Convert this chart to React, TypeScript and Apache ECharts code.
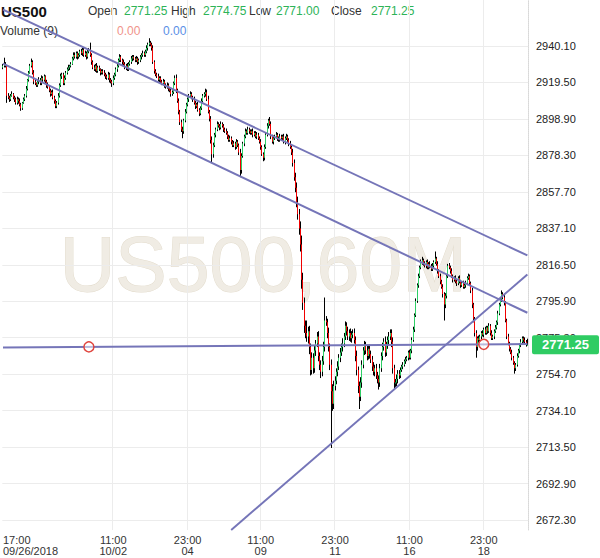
import React, { useEffect, useRef } from 'react';
import * as echarts from 'echarts';

// ---- data (hourly bars, US500 60M) ----
const firstOpen = 2928;
const closes = [
  2929, 2930, 2929, 2912, 2911, 2910, 2912, 2913, 2911, 2910,
  2908, 2910, 2909, 2907, 2905, 2908, 2910, 2912, 2916, 2921,
  2925, 2929, 2931, 2925, 2920, 2919, 2918, 2920, 2921, 2919,
  2922, 2921, 2923, 2920, 2918, 2917, 2915, 2913, 2914, 2911,
  2909, 2906, 2908, 2912, 2918, 2923, 2924, 2919, 2922, 2925,
  2927, 2928, 2929, 2930, 2933, 2935, 2934, 2936, 2934, 2935,
  2937, 2936, 2938, 2935, 2936, 2934, 2937, 2938, 2935, 2931,
  2928, 2927, 2929, 2926, 2928, 2927, 2925, 2926, 2925, 2924,
  2923, 2922, 2924, 2921, 2920, 2919, 2922, 2924, 2927, 2929,
  2932, 2934, 2932, 2931, 2930, 2928, 2929, 2927, 2930, 2931,
  2933, 2934, 2933, 2932, 2933, 2931, 2932, 2934, 2935, 2936,
  2935, 2937, 2939, 2941, 2942, 2941, 2939, 2931, 2926, 2924,
  2923, 2921, 2922, 2920, 2919, 2920, 2918, 2917, 2918, 2916,
  2915, 2913, 2914, 2919, 2922, 2915, 2909, 2903, 2897, 2893,
  2892, 2898, 2903, 2907, 2910, 2912, 2913, 2911, 2910, 2908,
  2906, 2907, 2904, 2902, 2905, 2909, 2912, 2913, 2914, 2910,
  2903, 2899, 2887, 2879, 2884, 2890, 2893, 2896, 2895, 2894,
  2896, 2895, 2893, 2892, 2891, 2889, 2887, 2888, 2886, 2884,
  2885, 2883, 2886, 2884, 2880, 2870, 2878, 2885, 2889, 2892,
  2891, 2893, 2892, 2891, 2892, 2890, 2891, 2889, 2890, 2888,
  2886, 2883, 2879, 2877, 2883, 2890, 2895, 2898, 2896, 2889,
  2886, 2888, 2889, 2890, 2888, 2887, 2889, 2888, 2889, 2886,
  2888, 2889, 2887, 2885, 2883, 2880, 2874, 2866, 2860, 2852,
  2845, 2837, 2828, 2808, 2795, 2782, 2778, 2776, 2779, 2770,
  2757, 2764, 2758, 2768, 2772, 2776, 2765, 2760, 2756, 2762,
  2770, 2785, 2784, 2778, 2770, 2760, 2745, 2738, 2748, 2751,
  2756, 2759, 2764, 2767, 2770, 2772, 2776, 2782, 2779, 2776,
  2778, 2775, 2777, 2778, 2774, 2765, 2757, 2748, 2742, 2750,
  2760, 2768, 2771, 2768, 2765, 2769, 2766, 2763, 2759, 2756,
  2758, 2754, 2752, 2750, 2758, 2765, 2770, 2773, 2767, 2771,
  2774, 2776, 2778, 2773, 2758, 2750, 2750, 2752, 2755, 2754,
  2757, 2759, 2760, 2762, 2763, 2764, 2767, 2764, 2768, 2774,
  2780, 2788, 2796, 2805, 2810, 2815, 2818, 2819, 2817, 2816,
  2818, 2815, 2817, 2816, 2814, 2816, 2818, 2820, 2817, 2813,
  2810, 2807, 2804, 2800, 2794, 2799, 2810, 2816, 2815, 2813,
  2810, 2808, 2809, 2807, 2806, 2809, 2807, 2805, 2806, 2804,
  2805, 2806, 2809, 2810, 2806, 2802, 2794, 2786, 2778, 2770,
  2775, 2774, 2776, 2778, 2777, 2780, 2778, 2781, 2779, 2782,
  2778, 2775, 2776, 2779, 2781, 2784, 2789, 2794, 2797, 2800,
  2798, 2795, 2785, 2776, 2772, 2769, 2767, 2764, 2761, 2758,
  2760, 2765, 2768, 2771, 2773, 2775, 2774, 2773, 2771.25, 2771.25,
];
// wick length above the body top, in points
const upperWicks = [
  1, 3.5, 1, 0.5, 1.5, 1, 1, 1.5, 0.5, 1,
  1, 1.5, 1, 1.5, 1, 0.5, 1, 1, 1.5, 0.5,
  1, 1, 2, 1, 1.5, 1, 0.5, 1, 1.5, 1,
  1.5, 1, 1, 0.5, 1, 1.5, 1, 1, 1, 1.5,
  1, 1, 1, 1.5, 1, 1.5, 1, 1, 1.5, 1,
  1, 1.5, 0.5, 1, 1, 1.5, 1.5, 1, 1, 1,
  1, 1.5, 1, 1, 1.5, 1, 1, 1, 4, 1,
  1, 1.5, 1, 1.5, 1, 1, 0.5, 1, 1, 1.5,
  1, 1, 1.5, 1, 1, 1, 1.5, 1, 1, 1,
  1, 1.5, 1, 1, 1.5, 1, 1, 1.5, 1, 1,
  1.5, 1, 1, 1, 1.5, 1, 1, 1, 1, 1.5,
  1, 1, 1.5, 1, 2.5, 1, 1, 1.5, 1, 1,
  1, 1.5, 1, 1, 1, 1.5, 1, 1, 1.5, 1,
  1, 1.5, 1, 1, 1.5, 2, 1, 1.5, 1, 1.5,
  1.5, 1, 1.5, 1, 1, 1, 1.5, 1, 1, 1.5,
  1, 1, 1.5, 1, 1, 1.5, 1, 1, 2, 1.5,
  2, 1, 1.5, 2, 1.5, 1, 1, 1.5, 1, 1,
  1.5, 1, 1, 1, 1.5, 1, 1, 1.5, 1, 1,
  1.5, 1, 1.5, 1, 1, 2, 1.5, 1, 1, 1.5,
  1, 1.5, 1, 1, 1, 1.5, 1, 1, 1.5, 1,
  1, 1.5, 1, 1, 1.5, 1, 1.5, 1, 2, 1.5,
  1, 1.5, 1, 1.5, 1, 1, 1.5, 1, 1, 1.5,
  1, 1.5, 1, 1, 1.5, 1, 2, 2, 2.5, 3,
  3, 3, 4, 5, 4, 3, 3, 7, 2.5, 3,
  2, 3, 2.5, 3, 2, 2.5, 3, 2, 2.5, 3,
  3, 13, 2.5, 2, 3, 2, 3, 4, 3, 2.5,
  2, 3, 2, 2.5, 2, 3, 2, 2.5, 2, 2.5,
  2, 2.5, 2, 2, 2.5, 2, 3, 2, 2.5, 3,
  2.5, 2, 2.5, 2, 3, 2, 2.5, 2, 2, 2.5,
  2, 2.5, 2, 2, 2.5, 2, 2.5, 2, 3, 2,
  2, 2.5, 2, 2, 2.5, 2, 2, 2.5, 2, 2,
  1.5, 1, 1.5, 1, 1.5, 1, 1, 1.5, 1, 1.5,
  1.5, 1, 1.5, 1, 1.5, 1, 1.5, 2, 1, 1.5,
  1, 1.5, 1, 1.5, 1, 1.5, 1, 4, 1, 1.5,
  1, 1.5, 1, 1.5, 1, 1.5, 1, 1, 1.5, 1,
  1.5, 1, 1, 1.5, 1, 1, 1.5, 1, 1, 1.5,
  1, 1.5, 1, 1.5, 1, 1, 1.5, 1, 1, 1.5,
  1, 1.5, 1, 1, 1.5, 1, 1.5, 1, 1, 1.5,
  1, 1.5, 1, 1, 1.5, 1, 1.5, 1, 1, 2,
  1, 1.5, 1, 1, 1.5, 1, 1, 1.5, 1, 1,
  1, 1.5, 1, 1, 1.5, 1, 1, 1.5, 1, 3.5,
];
// wick length below the body bottom, in points
const lowerWicks = [
  1, 1, 1, 4, 1, 1.5, 1, 0.5, 1, 1.5,
  1, 1, 1.5, 1, 1.5, 1, 0.5, 1, 1, 1,
  1, 0.5, 1, 1, 1.5, 1, 1, 1, 1.5, 1,
  1, 1.5, 1, 1, 1.5, 1, 1, 1.5, 1, 1,
  1.5, 1, 1, 1, 1, 1, 1.5, 1, 1, 1,
  1, 1, 1.5, 1, 0.5, 1, 1, 1, 1.5, 1,
  1, 1, 1.5, 1, 1, 1.5, 1, 1, 1, 1.5,
  1, 1, 1.5, 1, 1, 1, 1.5, 1, 1, 1,
  1.5, 1, 1, 1.5, 1, 2, 1, 1, 1, 1.5,
  1, 1, 1, 1.5, 1, 1, 1.5, 1, 1, 1,
  1, 1.5, 1, 1, 1, 1.5, 1, 1, 1.5, 1,
  1, 1, 1, 1.5, 1, 1, 1.5, 1, 1.5, 1,
  1, 1, 1.5, 1, 1, 1, 1.5, 1, 1, 1.5,
  1, 1.5, 1, 1, 1, 1.5, 1, 1.5, 1.5, 1.5,
  4, 1.5, 1, 1, 1, 1.5, 1, 1, 1.5, 1,
  1.5, 1, 1, 1.5, 1, 1, 1, 1, 1.5, 1,
  1, 1.5, 2, 5, 2, 1, 1.5, 1, 1, 1.5,
  1, 1, 1.5, 1, 1, 1.5, 1, 1, 1.5, 1,
  1, 1.5, 1, 1, 1.5, 4, 2, 1, 1.5, 1,
  1, 1, 1.5, 1, 1, 1.5, 1, 1, 1.5, 1,
  1, 1.5, 1, 2, 1.5, 1, 1, 1.5, 1, 1.5,
  1, 1.5, 1, 1, 1.5, 1, 1, 1.5, 1, 1,
  1.5, 1, 1, 1.5, 1, 1.5, 2, 2, 2.5, 3,
  3, 3.5, 4, 5, 4, 4, 3, 3, 4, 4,
  3, 2.5, 3, 2.5, 3, 2, 3, 3, 3.5, 2.5,
  2, 2.5, 2, 3, 2.5, 3, 32, 4, 3, 2.5,
  2, 2.5, 2, 2.5, 2, 2.5, 2, 2, 2.5, 2,
  2.5, 2, 2.5, 2, 2, 3, 3, 4, 7, 2.5,
  3, 2, 2.5, 2, 2.5, 2, 2.5, 2, 2.5, 2,
  2.5, 2, 2.5, 4, 2.5, 2, 2.5, 2, 2.5, 2,
  2, 2.5, 2, 3, 3, 4, 2.5, 2, 2.5, 2,
  1.5, 1, 1.5, 1, 1.5, 1, 1.5, 1, 1, 1.5,
  1, 1.5, 1, 1, 1.5, 1, 1, 1.5, 1, 1,
  1.5, 1, 1, 1.5, 1, 1, 1.5, 1, 1, 1.5,
  1, 1.5, 1, 2, 9, 2, 1.5, 1, 1, 1.5,
  1, 1.5, 1, 1, 1.5, 1, 1, 1.5, 1, 1,
  1, 1.5, 1, 1, 1.5, 1.5, 2, 2, 2, 6,
  2, 1.5, 1, 1.5, 1, 1.5, 1, 1, 1.5, 1,
  1.5, 1, 1, 1.5, 1, 1, 1.5, 1, 1, 1.5,
  1, 1.5, 1, 1.5, 1, 1.5, 1, 1.5, 1, 3,
  1.5, 1, 1, 1.5, 1, 1, 1.5, 1, 1, 0.25,
];

const yTicks = [2672.3, 2692.9, 2713.5, 2734.1, 2754.7, 2775.3, 2795.9, 2816.5, 2837.1, 2857.7, 2878.3, 2898.9, 2919.5, 2940.1];
const timeLabelIndex = [0, 86, 144, 201, 259, 317, 375];
const timeLabels = ['17:00\n09/26/2018', '11:00\n10/02', '23:00\n04', '11:00\n09', '23:00\n11', '11:00\n16', '23:00\n18'];

// drawn studies, [bar index, price]
const upperChannel = [[0, 2960.7], [409, 2821.8]];
const lowerChannel = [[0, 2930.15], [409, 2789.4]];
const supportLine = [[178, 2666.7], [409, 2811]];
const levelLine = [[0, 2769.8], [409, 2771.7]];
const anchorPoints = [[67, 2770.11], [375, 2771.54]];
const volumeValues = [0, 0];

export default function App() {
  const ref = useRef<HTMLDivElement>(null);
  useEffect(() => {
    document.body.style.margin = '0';
    const chart = echarts.init(ref.current!, undefined, { renderer: 'svg' });
    const categories = closes.map((_, i) => String(i));
    const opens = closes.map((c, i) => (i === 0 ? firstOpen : closes[i - 1]));
    // [index, open, close, low, high]
    const bars = closes.map((c, i) => {
      const o = opens[i];
      return [i, o, c, Math.min(o, c) - lowerWicks[i], Math.max(o, c) + upperWicks[i]];
    });
    const last = bars[bars.length - 1];
    const lastPrice = last[2];
    const labelSet = new Set(timeLabelIndex);
    const font = '"Liberation Sans", Arial, sans-serif';
    const green = '#2db357';
    const upColor = '#2ecf66';
    const downColor = '#f00000';
    const lineColor = '#7575b8';
    const seg = (p: number[][]) => [{ coord: p[0] }, { coord: p[1] }];

    const headerItems: [string, number, string][] = [
      ['Open', 88, '#333'],
      [last[1].toFixed(2), 124, green],
      ['High', 171, '#333'],
      [last[4].toFixed(2), 203, green],
      ['Low', 249, '#333'],
      [last[3].toFixed(2), 276, green],
      ['Close', 331, '#333'],
      [last[2].toFixed(2), 371, green],
    ];

    const renderCandle = (_params: any, api: any) => {
      const i = api.value(0);
      const o = api.value(1);
      const c = api.value(2);
      const lo = api.value(3);
      const hi = api.value(4);
      const pHi = api.coord([i, hi]);
      const pLo = api.coord([i, lo]);
      const pO = api.coord([i, o]);
      const pC = api.coord([i, c]);
      const col = Math.floor(pHi[0]);
      const top = Math.min(pO[1], pC[1]);
      const h = Math.max(Math.abs(pO[1] - pC[1]), 1);
      return {
        type: 'group',
        children: [
          {
            type: 'line',
            shape: { x1: col + 0.5, y1: pHi[1], x2: col + 0.5, y2: pLo[1] },
            style: { stroke: '#000', lineWidth: 1 },
          },
          {
            type: 'rect',
            shape: { x: col, y: top, width: 1, height: h },
            style: { fill: c >= o ? upColor : downColor },
          },
        ],
      };
    };

    chart.setOption({
      animation: false,
      textStyle: { fontFamily: font },
      grid: { left: 0, right: 72, top: 0, bottom: 28 },
      xAxis: {
        type: 'category',
        data: categories,
        boundaryGap: true,
        axisLine: { show: false },
        axisTick: { show: false },
        axisLabel: {
          interval: (i: number) => labelSet.has(i),
          formatter: (_v: string, i: number) => timeLabels[timeLabelIndex.indexOf(i)] ?? '',
          fontSize: 11,
          lineHeight: 11,
          color: '#333',
          margin: 4,
          alignMinLabel: 'left',
        },
        splitLine: {
          show: true,
          interval: (i: number) => labelSet.has(i) && i > 0,
          lineStyle: { color: '#ececec', width: 1 },
        },
      },
      yAxis: {
        type: 'value',
        position: 'right',
        min: 2666.65,
        max: 2966.1,
        scale: true,
        axisLine: { show: true, lineStyle: { color: '#d8d8d8', type: 'dotted' } },
        axisTick: { show: false, customValues: yTicks },
        axisLabel: {
          customValues: yTicks,
          formatter: (v: number) => v.toFixed(2),
          fontSize: 11,
          color: '#222',
          margin: 8,
        },
        splitLine: { show: true, lineStyle: { color: '#ececec', width: 1 } },
      },
      graphic: [
        {
          type: 'text',
          z: -1,
          silent: true,
          x: 263,
          y: 264,
          style: {
            text: 'US500,60M',
            font: `77px ${font}`,
            fill: '#f0ece4',
            stroke: '#e3dccd',
            lineWidth: 1,
            textAlign: 'center',
            textVerticalAlign: 'middle',
            align: 'center',
            verticalAlign: 'middle',
          },
        },
        {
          type: 'text',
          x: 1,
          y: 11,
          style: { text: 'US500', font: `bold 15px ${font}`, fill: '#111', textVerticalAlign: 'middle', verticalAlign: 'middle' },
        },
        ...headerItems.map(([t, x, c]) => ({
          type: 'text',
          x,
          y: 11,
          style: { text: t, font: `12px ${font}`, fill: c, textVerticalAlign: 'middle', verticalAlign: 'middle' },
        })),
        {
          type: 'text',
          x: 0,
          y: 31,
          style: { text: 'Volume (9)', font: `12px ${font}`, fill: '#333', textVerticalAlign: 'middle', verticalAlign: 'middle' },
        },
        {
          type: 'text',
          x: 117,
          y: 31,
          style: { text: volumeValues[0].toFixed(2), font: `12px ${font}`, fill: '#f0948a', textVerticalAlign: 'middle', verticalAlign: 'middle' },
        },
        {
          type: 'text',
          x: 163,
          y: 31,
          style: { text: volumeValues[1].toFixed(2), font: `12px ${font}`, fill: '#5b8fe6', textVerticalAlign: 'middle', verticalAlign: 'middle' },
        },
      ],
      series: [
        {
          type: 'custom',
          z: 3,
          data: bars,
          encode: { x: 0, y: [1, 2, 3, 4] },
          renderItem: renderCandle,
          silent: true,
          clip: false,
          markLine: {
            silent: true,
            symbol: ['none', 'none'],
            label: { show: false },
            lineStyle: { color: lineColor, width: 2, type: 'solid' },
            emphasis: { disabled: true },
            data: [
              seg(upperChannel),
              seg(lowerChannel),
              seg(supportLine),
              seg(levelLine),
              {
                yAxis: lastPrice,
                lineStyle: { color: 'rgba(0,0,0,0)', width: 0 },
                label: {
                  show: true,
                  position: 'end',
                  distance: 4,
                  opacity: 1,
                  formatter: lastPrice.toFixed(2),
                  backgroundColor: '#2fcc63',
                  color: '#fff',
                  fontSize: 13,
                  fontWeight: 'bold',
                  padding: [3, 10, 3, 10],
                  borderRadius: 2,
                },
              },
            ],
          },
          markPoint: {
            silent: true,
            symbol: 'circle',
            symbolSize: 10,
            label: { show: false },
            itemStyle: { color: 'rgba(255,255,255,0.5)', borderColor: '#e0463f', borderWidth: 1.5 },
            data: anchorPoints.map((p) => ({ coord: p })),
          },
        },
      ],
    });
    return () => chart.dispose();
  }, []);
  return <div ref={ref} style={{ position: 'absolute', left: 0, top: 0, width: 600, height: 558 }} />;
}
